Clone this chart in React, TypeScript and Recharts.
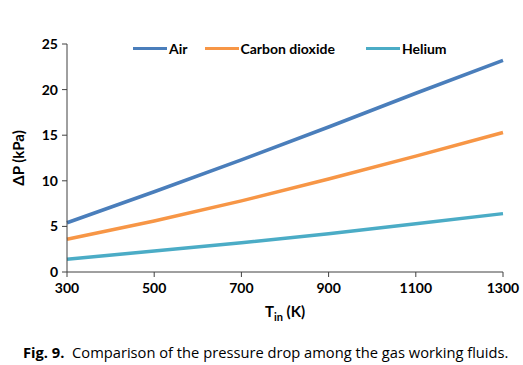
import React from "react";
import { LineChart, Line, XAxis, YAxis, Label } from "recharts";

const temps = [300, 500, 700, 900, 1100, 1300];
const air = [5.4, 8.8, 12.3, 15.9, 19.6, 23.2];
const co2 = [3.6, 5.6, 7.8, 10.2, 12.7, 15.3];
const helium = [1.4, 2.3, 3.2, 4.2, 5.3, 6.4];
const xTicks = [300, 500, 700, 900, 1100, 1300];
const yTicks = [0, 5, 10, 15, 20, 25];

const data = temps.map((t, i) => ({ t, air: air[i], co2: co2[i], helium: helium[i] }));

const series = [
  { key: "air", name: "Air", color: "#4a7ebb", gap: 17 },
  { key: "co2", name: "Carbon dioxide", color: "#f79646", gap: 31 },
  { key: "helium", name: "Helium", color: "#4bacc6", gap: 0 },
];

const font = "Lato, 'Open Sans', sans-serif";

const LegendBox = () => (
  <div
    style={{
      position: "absolute",
      left: 133,
      top: 40,
      display: "flex",
      fontFamily: font,
      fontWeight: 700,
      fontSize: 14,
      color: "#000",
    }}
  >
    {series.map((s) => (
      <div key={s.key} style={{ display: "flex", alignItems: "center", marginRight: s.gap }}>
        <div style={{ width: 34, height: 3.5, background: s.color, marginRight: 2 }} />
        <span>{s.name}</span>
      </div>
    ))}
  </div>
);

const XTitle = (props: any) => {
  const vb = props.viewBox;
  const cx = vb.x + vb.width / 2;
  return (
    <text x={cx} y={vb.y + 45} textAnchor="middle" fontFamily={font} fontWeight={700} fontSize={15} fill="#000">
      T<tspan fontSize={11} dy={4}>in</tspan>
      <tspan dy={-4}> (K)</tspan>
    </text>
  );
};

export default function App() {
  return (
    <div style={{ position: "absolute", left: 0, top: 0, width: 523, height: 365, background: "#fff" }}>
      <LineChart width={523} height={330} data={data} margin={{ top: 44, right: 20, bottom: 28, left: 7 }}>
        <XAxis
          dataKey="t"
          type="number"
          domain={[300, 1300]}
          ticks={xTicks}
          tickLine={{ stroke: "#404040" }}
          axisLine={{ stroke: "#404040" }}
          tick={{ fill: "#000", fontFamily: font, fontWeight: 700, fontSize: 14 }}
          tickSize={5}
          tickMargin={6}
          height={30}
        >
          <Label content={<XTitle />} />
        </XAxis>
        <YAxis
          type="number"
          domain={[0, 25]}
          ticks={yTicks}
          width={60}
          tickLine={{ stroke: "#404040" }}
          axisLine={{ stroke: "#404040" }}
          tick={{ fill: "#000", fontFamily: font, fontWeight: 700, fontSize: 14 }}
          tickSize={5}
          tickMargin={4}
        >
          <Label
            value="ΔP (kPa)"
            angle={-90}
            position="insideLeft"
            offset={12}
            style={{ textAnchor: "middle", fontFamily: font, fontWeight: 700, fontSize: 15, fill: "#000" }}
          />
        </YAxis>
        {series.map((s) => (
          <Line
            key={s.key}
            dataKey={s.key}
            name={s.name}
            stroke={s.color}
            strokeWidth={3.5}
            dot={false}
            isAnimationActive={false}
          />
        ))}
      </LineChart>
      <LegendBox />
      <div
        style={{
          position: "absolute",
          left: 23,
          top: 342,
          fontFamily: "'Open Sans', sans-serif",
          fontSize: 14.7,
          color: "#000",
          whiteSpace: "nowrap",
        }}
      >
        <b>Fig. 9.</b>&nbsp; Comparison of the pressure drop among the gas working fluids.
      </div>
    </div>
  );
}
